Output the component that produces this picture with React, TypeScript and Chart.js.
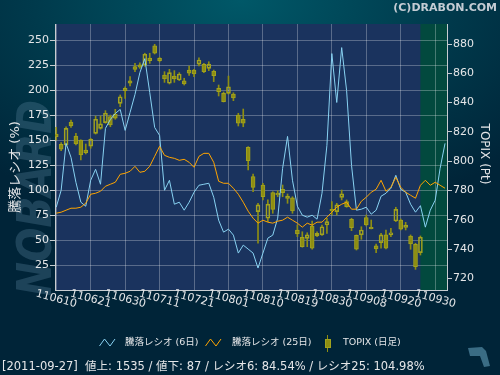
import React, { useEffect, useRef } from 'react';
import { Chart, registerables } from 'chart.js';

Chart.register(...registerables);

// ---- data ----
const dateLabels = ['110610', '110621', '110630', '110711', '110721', '110801', '110810', '110819', '110830', '110908', '110920', '110930'];
const dateTickIndex = [0, 7, 14, 21, 28, 35, 42, 49, 56, 63, 70, 77];

const ratio6 = [
  83, 100, 147, 133, 108, 88, 84, 110, 121, 106,
  162, 171, 177, 181, 160, 178, 196, 218, 232, 198,
  163, 155, 100, 110, 86, 88, 80, 88, 98, 105,
  106, 107, 93, 70, 58, 61, 55, 37, 45, 41,
  37, 22, 37, 52, 55, 72, 122, 154, 110, 84,
  75, 73, 75, 71, 97, 145, 237, 188, 243, 200,
  125, 80, 81, 83, 76, 80, 94, 97, 102, 115,
  101, 98, 86, 78, 84.54, 63, 80, 90, 122, 147,
];

const ratio25 = [
  77, 78, 80, 82, 82, 83, 87, 96, 97, 99,
  104, 106, 108, 116, 117, 119, 124, 118, 119, 124,
  134, 144, 135, 133, 132, 130, 131, 128, 123, 134,
  137, 137, 128, 109, 107, 107, 102, 96, 88, 79,
  72, 67, 70, 68, 67, 69, 70, 73, 70, 67,
  63, 67, 65, 68, 68, 73, 78, 83, 86, 88,
  81, 81, 89, 93, 98, 101, 110, 99, 103, 113,
  103, 98, 95, 92, 104.98, 110, 105, 108, 105, 102,
];

const topixOpen = [
  818.5, 811.5, 811.0, 826.7, 817.2, 814.4, 807.6, 810.3, 819.0, 822.4,
  826.3, 830.4, 832.2, 839.5, 849.7, 854.9, 864.5, 865.7, 865.7, 870.4,
  878.8, 870.2, 858.8, 853.2, 858.1, 855.4, 854.9, 862.2, 862.2, 866.3,
  866.1, 863.4, 861.4, 849.7, 846.3, 846.3, 845.8, 831.5, 828.6, 809.5,
  789.4, 765.5, 783.7, 761.0, 778.5, 778.1, 780.8, 774.6, 775.0, 753.0,
  748.0, 747.3, 755.7, 748.9, 749.6, 756.4, 767.1, 765.5, 775.3, 772.3,
  760.3, 749.4, 749.6, 761.4, 754.8, 742.1, 744.3, 749.6, 749.6, 759.1,
  759.8, 754.8, 748.9, 743.2, 737.5,
];
const topixHigh = [
  823.1, 812.6, 823.5, 828.1, 819.0, 814.6, 811.7, 815.6, 830.8, 830.8,
  834.5, 831.5, 835.4, 845.2, 850.8, 857.7, 866.8, 867.2, 873.7, 873.7,
  879.8, 870.9, 861.1, 862.7, 861.8, 860.4, 856.6, 865.0, 862.7, 870.6,
  866.8, 867.9, 862.2, 852.0, 847.2, 858.1, 846.7, 832.7, 835.6, 809.9,
  791.2, 771.2, 784.9, 773.5, 779.1, 779.8, 783.7, 777.6, 775.7, 756.4,
  751.8, 751.1, 759.1, 751.8, 756.4, 761.0, 772.3, 771.2, 780.3, 773.5,
  761.0, 749.6, 755.2, 763.2, 759.8, 743.4, 750.7, 753.0, 754.1, 768.5,
  760.5, 758.2, 749.6, 743.9, 748.9,
];
const topixLow = [
  814.4, 807.1, 810.3, 823.1, 811.0, 800.8, 804.9, 808.8, 818.5, 821.8,
  825.9, 823.5, 828.6, 837.2, 842.9, 851.3, 861.1, 863.4, 864.8, 866.8,
  873.2, 867.7, 853.8, 852.7, 853.8, 855.0, 852.0, 858.6, 857.7, 865.0,
  860.4, 861.8, 854.3, 844.5, 840.4, 845.8, 841.3, 824.0, 823.5, 794.0,
  779.1, 743.9, 773.5, 758.7, 764.4, 775.7, 775.7, 771.2, 764.4, 748.4,
  741.2, 741.6, 739.8, 748.4, 749.2, 750.7, 763.2, 763.2, 773.5, 768.5,
  752.5, 739.3, 746.6, 755.7, 753.7, 737.5, 740.5, 740.0, 748.4, 758.7,
  753.0, 753.0, 739.8, 726.1, 735.9,
];
const topixClose = [
  816.7, 808.1, 822.4, 824.0, 811.7, 804.2, 805.8, 814.9, 828.6, 825.4,
  832.7, 824.7, 829.3, 844.0, 848.1, 853.2, 862.7, 864.1, 873.0, 868.6,
  873.7, 868.6, 856.1, 860.4, 856.1, 859.5, 852.7, 860.0, 859.5, 869.1,
  861.1, 866.3, 858.3, 847.4, 840.6, 850.8, 843.1, 825.9, 825.9, 800.3,
  782.1, 770.1, 775.7, 770.7, 767.1, 776.9, 778.5, 776.2, 766.0, 750.3,
  741.6, 749.6, 740.5, 750.7, 755.2, 758.7, 766.0, 770.1, 777.6, 768.9,
  754.6, 739.8, 753.0, 756.4, 753.9, 740.0, 749.6, 740.5, 751.1, 767.1,
  753.5, 756.4, 743.4, 727.9, 748.0,
];

const leftTicks = [25, 50, 75, 100, 125, 150, 175, 200, 225, 250];
const rightTicks = [720, 740, 760, 780, 800, 820, 840, 860, 880];
const latestIndex = 74;

const legendLabels = ['騰落レシオ (6日)', '騰落レシオ (25日)', 'TOPIX (日足)'];
const leftTitle = '騰落レシオ (%)';
const rightTitle = 'TOPIX (Pt)';
const statusText = '[2011-09-27]  値上: 1535 / 値下: 87 / レシオ6: 84.54% / レシオ25: 104.98%';
const copyright = '(C)DRABON.COM';
const watermark = 'NOBARD';

// ---- styles ----
const FONT = '"DejaVu Sans", "Noto Sans CJK JP", sans-serif';
const TXT = '#e4e6e8';
const AXIS = '#c8ccd0';
const GRID = 'rgba(255,255,255,0.28)';
const PLOT_BG = '#1a335e';
const FUTURE_BG = '#02493e';
const CYAN = '#88d2f2';
const ORANGE = '#ffa500';
const CANDLE_FILL = '#8e8e12';
const CANDLE_LINE = '#a2a21e';

const decorPlugin = {
  id: 'decor',
  beforeDraw(chart: any) {
    const { ctx, chartArea: a, scales } = chart;
    ctx.save();
    // watermark
    ctx.translate(33.5, 198);
    ctx.rotate(-Math.PI / 2);
    ctx.font = `italic bold 48px ${FONT}`;
    const w = ctx.measureText(watermark).width;
    ctx.scale(196 / w, 1);
    ctx.fillStyle = 'rgba(90,135,160,0.32)';
    ctx.textAlign = 'center';
    ctx.textBaseline = 'alphabetic';
    ctx.fillText(watermark, 0, 17);
    ctx.restore();

    ctx.save();
    ctx.fillStyle = PLOT_BG;
    ctx.fillRect(a.left, a.top, a.right - a.left, a.bottom - a.top);
    const gx = scales.x.getPixelForValue(latestIndex);
    ctx.fillStyle = FUTURE_BG;
    ctx.fillRect(gx, a.top, a.right - gx, a.bottom - a.top);
    ctx.restore();
  },
  afterDraw(chart: any) {
    const { ctx, scales } = chart;
    ctx.save();
    // x tick labels (rotated clockwise)
    ctx.font = `11px ${FONT}`;
    ctx.fillStyle = TXT;
    ctx.textAlign = 'center';
    ctx.textBaseline = 'middle';
    scales.x.ticks.forEach((t: any, k: number) => {
      const px = scales.x.getPixelForValue(t.value);
      ctx.save();
      ctx.translate(px, 299);
      ctx.rotate((15 * Math.PI) / 180);
      ctx.fillText(dateLabels[k], 0, 0);
      ctx.restore();
    });

    // axis titles
    ctx.save();
    ctx.translate(16, 167);
    ctx.rotate(-Math.PI / 2);
    ctx.font = `13px ${FONT}`;
    ctx.fillText(leftTitle, 0, 0);
    ctx.restore();

    ctx.save();
    ctx.translate(484, 154);
    ctx.rotate(Math.PI / 2);
    ctx.font = `12px ${FONT}`;
    ctx.fillText(rightTitle, 0, 0);
    ctx.restore();

    // legend
    ctx.lineWidth = 1;
    ctx.strokeStyle = CYAN;
    ctx.beginPath();
    ctx.moveTo(99.5, 346); ctx.lineTo(104.5, 339); ctx.lineTo(110, 346); ctx.lineTo(115, 339);
    ctx.stroke();
    ctx.strokeStyle = ORANGE;
    ctx.beginPath();
    ctx.moveTo(205.5, 346); ctx.lineTo(210.5, 339); ctx.lineTo(216, 346); ctx.lineTo(221, 339);
    ctx.stroke();
    ctx.strokeStyle = CANDLE_FILL;
    ctx.beginPath();
    ctx.moveTo(327.5, 335); ctx.lineTo(327.5, 352);
    ctx.stroke();
    ctx.fillStyle = CANDLE_FILL;
    ctx.fillRect(325, 339, 6, 9);
    ctx.strokeStyle = CANDLE_LINE;
    ctx.strokeRect(325.5, 339.5, 5, 8);

    ctx.fillStyle = TXT;
    ctx.textAlign = 'left';
    ctx.font = `9.5px ${FONT}`;
    ctx.fillText(legendLabels[0], 125, 343);
    ctx.fillText(legendLabels[1], 232, 343);
    ctx.fillText(legendLabels[2], 343, 343);

    // status line
    ctx.font = `11.5px ${FONT}`;
    ctx.fillText(statusText, 2, 367);

    // copyright
    ctx.font = `bold 11px ${FONT}`;
    ctx.fillStyle = '#c4ccd4';
    ctx.textAlign = 'right';
    ctx.fillText(copyright, 497, 8);

    // small logo mark
    ctx.fillStyle = '#3a6c84';
    ctx.beginPath();
    ctx.moveTo(468, 348); ctx.lineTo(482, 347); ctx.lineTo(486, 351);
    ctx.lineTo(490, 366); ctx.lineTo(484, 367); ctx.lineTo(480, 356); ctx.lineTo(470, 356);
    ctx.closePath();
    ctx.fill();
    ctx.restore();
  },
};

export default function App() {
  const ref = useRef<HTMLCanvasElement | null>(null);

  useEffect(() => {
    if (!ref.current) return;
    const line6 = ratio6.map((v, i) => ({ x: i, y: v }));
    const line25 = ratio25.map((v, i) => ({ x: i, y: v }));
    const bodies = topixOpen.map((o, i) => ({ x: i, y: [o, topixClose[i]] }));
    const upperWick = topixOpen.map((o, i) => ({ x: i, y: [Math.max(o, topixClose[i]), topixHigh[i]] }));
    const lowerWick = topixOpen.map((o, i) => ({ x: i, y: [topixLow[i], Math.min(o, topixClose[i])] }));
    const bodyBg = topixOpen.map((o, i) => (topixClose[i] > o ? 'rgba(0,0,0,0)' : CANDLE_FILL));

    const tickFont = { family: FONT, size: 11 };

    const chart = new Chart(ref.current, {
      type: 'bar',
      data: {
        datasets: [
          { type: 'line', data: line6, yAxisID: 'y', borderColor: CYAN, borderWidth: 1, pointRadius: 0, tension: 0, fill: false, order: 1 } as any,
          { type: 'line', data: line25, yAxisID: 'y', borderColor: ORANGE, borderWidth: 1, pointRadius: 0, tension: 0, fill: false, order: 0 } as any,
          { type: 'bar', data: bodies, yAxisID: 'y2', backgroundColor: bodyBg, borderColor: CANDLE_LINE, borderWidth: 1, borderSkipped: false, barThickness: 4, grouped: false, order: 2 } as any,
          { type: 'bar', data: upperWick, yAxisID: 'y2', backgroundColor: CANDLE_FILL, borderWidth: 0, barThickness: 1, grouped: false, order: 3 } as any,
          { type: 'bar', data: lowerWick, yAxisID: 'y2', backgroundColor: CANDLE_FILL, borderWidth: 0, barThickness: 1, grouped: false, order: 3 } as any,
        ],
      },
      options: {
        responsive: false,
        animation: false,
        events: [],
        layout: { padding: { top: 24, left: 0, right: 0, bottom: 0 } },
        plugins: { legend: { display: false }, tooltip: { enabled: false } },
        scales: {
          x: {
            type: 'linear',
            min: -0.25,
            max: 79.4,
            offset: false,
            grid: { color: GRID, drawTicks: false, offset: false },
            border: { color: AXIS },
            ticks: { display: false },
            afterBuildTicks: (s: any) => { s.ticks = dateTickIndex.map((v) => ({ value: v })); },
            afterFit: (s: any) => { s.height = 85; },
          },
          y: {
            type: 'linear',
            position: 'left',
            min: 0,
            max: 800 / 3,
            grid: { color: GRID, tickColor: AXIS, tickLength: 5 },
            border: { color: AXIS },
            ticks: { color: TXT, font: tickFont, padding: 1 },
            afterBuildTicks: (s: any) => { s.ticks = leftTicks.map((v) => ({ value: v })); },
            afterFit: (s: any) => { s.width = 55; },
          },
          y2: {
            type: 'linear',
            position: 'right',
            min: 712,
            max: 893.66,
            grid: { drawOnChartArea: false, tickColor: AXIS, tickLength: 5 },
            border: { color: AXIS },
            ticks: { color: TXT, font: tickFont, padding: 1 },
            afterBuildTicks: (s: any) => { s.ticks = rightTicks.map((v) => ({ value: v })); },
            afterFit: (s: any) => { s.width = 53; },
          },
        },
      } as any,
      plugins: [decorPlugin],
    });
    return () => chart.destroy();
  }, []);

  return (
    <div
      style={{
        position: 'fixed',
        left: 0,
        top: 0,
        width: 500,
        height: 375,
        background: 'radial-gradient(ellipse 75% 60% at 48% 0%, #005868 0%, #003a4c 55%, #002438 100%)',
      }}
    >
      <canvas ref={ref} width={500} height={375} style={{ display: 'block' }} />
    </div>
  );
}
